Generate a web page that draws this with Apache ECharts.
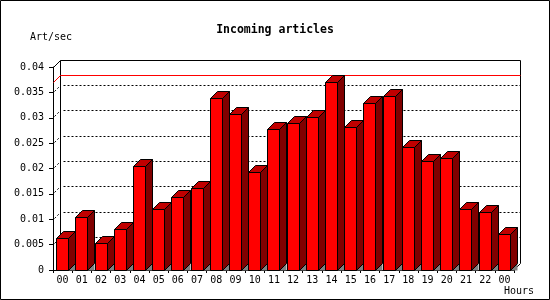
<!DOCTYPE html>
<html><head><meta charset="utf-8">
<script src="https://cdn.jsdelivr.net/npm/echarts@6/dist/echarts.min.js"></script>
<style>html,body{margin:0;padding:0;background:#fff}#c{width:550px;height:300px}</style>
</head><body><div id="c"></div>
<script>
const hours = ['00','01','02','03','04','05','06','07','08','09','10','11','12','13','14','15','16','17','18','19','20','21','22','00'];
const values = [0.0062,0.0104,0.0053,0.0080,0.0203,0.0120,0.0142,0.0160,0.0338,0.0307,0.0192,0.0277,0.0289,0.0301,0.0370,0.0281,0.0328,0.0342,0.0242,0.0214,0.0220,0.0120,0.0114,0.0070];
const yTicks = [0.005,0.01,0.015,0.02,0.025,0.03,0.035];
const yMin = 0, yMax = 0.04, yStep = 0.005;
const maxVal = Math.max.apply(null, values);

const DEPTH = 7;
const FONT = '"DejaVu Sans Mono", monospace';
const snap = v => Math.floor(v) + 0.5;

const chart = echarts.init(document.getElementById('c'), null, {renderer: 'canvas'});

function edges(api) {
  const bw = api.size([1, 0])[0];
  const left = api.coord([0, yMin])[0] - bw / 2;
  const right = api.coord([hours.length - 1, yMin])[0] + bw / 2;
  return {left, right, bw};
}

const option = {
  animation: false,
  backgroundColor: '#fff',
  title: {
    text: 'Incoming articles', left: 'center', top: 19,
    textStyle: {fontFamily: FONT, fontSize: 11.5, fontWeight: 'bold', color: '#000'}
  },
  grid: {left: 53, right: 36, top: 67, bottom: 30, containLabel: false},
  xAxis: {
    type: 'category', data: hours,
    axisLine: {show: true, lineStyle: {color: '#000', width: 1}},
    axisTick: {show: true, length: 3, lineStyle: {color: '#000'}},
    axisLabel: {color: '#000', fontFamily: FONT, fontSize: 10, margin: 5, interval: 0},
    splitLine: {show: false}
  },
  yAxis: {
    type: 'value', min: yMin, max: yMax, interval: yStep,
    axisLine: {show: true, lineStyle: {color: '#000', width: 1}},
    axisTick: {show: true, length: 4, lineStyle: {color: '#000'}},
    axisLabel: {color: '#000', fontFamily: FONT, fontSize: 10, margin: 9},
    splitLine: {show: false}
  },
  graphic: [
    {type: 'rect', shape: {x: 0.5, y: 0.5, width: 549, height: 299}, style: {fill: 'none', stroke: '#000', lineWidth: 1}, silent: true},
    {type: 'text', x: 30, y: 37.5, style: {text: 'Art/sec', font: '10px ' + FONT, fill: '#000', align: 'left', verticalAlign: 'middle', textAlign: 'left', textVerticalAlign: 'middle'}},
    {type: 'text', x: 504, y: 291, style: {text: 'Hours', font: '10px ' + FONT, fill: '#000', align: 'left', verticalAlign: 'middle', textAlign: 'left', textVerticalAlign: 'middle'}}
  ],
  series: [
    { // back plane frame
      type: 'custom', z: 1, silent: true,
      data: [[0, yMax]],
      renderItem: function (params, api) {
        const e = edges(api);
        const yT = snap(api.coord([0, yMax])[1]);
        const y0 = snap(api.coord([0, yMin])[1]);
        const fl = snap(e.left), fr = snap(e.right - 0.5);
        const bl = fl + DEPTH, br = fr + DEPTH, bt = yT - DEPTH, bb = y0 - DEPTH;
        const st = {stroke: '#000', lineWidth: 1, fill: 'none'};
        return {type: 'group', children: [
          {type: 'line', shape: {x1: fl, y1: yT, x2: bl, y2: bt}, style: st},
          {type: 'line', shape: {x1: bl, y1: bt, x2: bl, y2: bb}, style: st},
          {type: 'line', shape: {x1: bl, y1: bt, x2: br, y2: bt}, style: st},
          {type: 'line', shape: {x1: br, y1: bt, x2: br, y2: bb}, style: st},
          {type: 'line', shape: {x1: fr, y1: y0, x2: br, y2: bb}, style: st}
        ]};
      }
    },
    { // dotted grid lines on back plane
      type: 'custom', z: 1, silent: true,
      data: yTicks.map(t => [0, t]),
      renderItem: function (params, api) {
        const e = edges(api);
        const y = snap(api.coord([0, api.value(1)])[1]);
        const fl = snap(e.left), fr = snap(e.right - 0.5);
        const st = {stroke: '#000', lineWidth: 1, fill: 'none', lineDash: [2, 2]};
        return {type: 'group', children: [
          {type: 'line', shape: {x1: fl + DEPTH + 3, y1: y - DEPTH, x2: fr + DEPTH, y2: y - DEPTH}, style: st},
          {type: 'line', shape: {x1: fl + 1, y1: y - 1, x2: fl + DEPTH, y2: y - DEPTH}, style: st}
        ]};
      }
    },
    { // max line
      type: 'custom', z: 2, silent: true,
      data: [[0, maxVal]],
      renderItem: function (params, api) {
        const e = edges(api);
        const y = snap(api.coord([0, api.value(1)])[1]);
        const fl = snap(e.left), fr = snap(e.right - 0.5);
        const st = {stroke: '#ff0000', lineWidth: 1, fill: 'none'};
        return {type: 'group', children: [
          {type: 'line', shape: {x1: fl + DEPTH, y1: y - DEPTH, x2: fr + DEPTH, y2: y - DEPTH}, style: st},
          {type: 'line', shape: {x1: fl, y1: y, x2: fl + DEPTH, y2: y - DEPTH}, style: st}
        ]};
      }
    },
    { // 3D bars
      type: 'custom', z: 3, silent: true,
      data: values.map((v, i) => [i, v]),
      encode: {x: 0, y: 1},
      renderItem: function (params, api) {
        const i = api.value(0), v = api.value(1);
        const top = api.coord([i, v]);
        const base = api.coord([i, yMin]);
        const bw = api.size([1, 0])[0];
        const hw = bw * 0.3125;
        const xL = snap(top[0] - hw), xR = snap(top[0] + hw);
        const yT = snap(top[1]), y0 = snap(base[1]);
        const d = DEPTH;
        return {type: 'group', children: [
          {type: 'polygon', shape: {points: [[xR, y0], [xR + d, y0 - d], [xR + d, y0]]}, style: {fill: '#808080'}},
          {type: 'polygon', shape: {points: [[xR, yT], [xR + d, yT - d], [xR + d, y0 - d], [xR, y0]]}, style: {fill: '#800000', stroke: '#000', lineWidth: 1}},
          {type: 'polygon', shape: {points: [[xL, yT], [xL + d, yT - d], [xR + d, yT - d], [xR, yT]]}, style: {fill: '#c00000', stroke: '#000', lineWidth: 1}},
          {type: 'rect', shape: {x: xL, y: yT, width: xR - xL, height: y0 - yT}, style: {fill: '#ff0000', stroke: '#000', lineWidth: 1}}
        ]};
      }
    }
  ]
};
chart.setOption(option);
</script>
</body></html>
